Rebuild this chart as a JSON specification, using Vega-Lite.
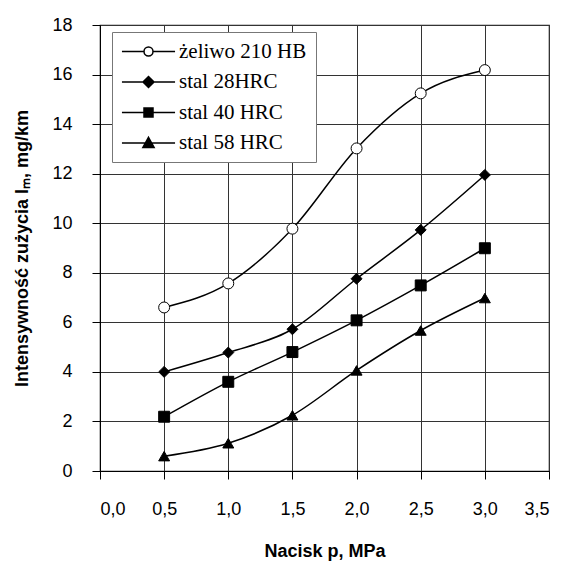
{
  "$schema": "https://vega.github.io/schema/vega-lite/v6.json",
  "width": 449,
  "height": 446,
  "autosize": "none",
  "padding": {"left": 100, "top": 25, "right": 20, "bottom": 97},
  "background": "white",
  "config": {
    "locale": {"number": {"decimal": ",", "thousands": " ", "grouping": [3], "currency": ["", ""]}},
    "view": {"stroke": "#222", "strokeWidth": 1.2},
    "axis": {
      "labelFont": "Liberation Sans", "labelFontSize": 18, "labelColor": "black",
      "titleFont": "Liberation Sans", "titleFontSize": 18, "titleFontWeight": "bold", "titleColor": "black",
      "domainColor": "black", "tickColor": "black", "tickSize": 8,
      "gridColor": "#333", "gridWidth": 1, "gridOpacity": 1
    }
  },
  "datasets": {
    "wear": [
      {"p": 0.5, "Im": 6.6, "series": "żeliwo 210 HB"},
      {"p": 1.0, "Im": 7.57, "series": "żeliwo 210 HB"},
      {"p": 1.5, "Im": 9.78, "series": "żeliwo 210 HB"},
      {"p": 2.0, "Im": 13.02, "series": "żeliwo 210 HB"},
      {"p": 2.5, "Im": 15.24, "series": "żeliwo 210 HB"},
      {"p": 3.0, "Im": 16.18, "series": "żeliwo 210 HB"},
      {"p": 0.5, "Im": 4.0, "series": "stal 28HRC"},
      {"p": 1.0, "Im": 4.78, "series": "stal 28HRC"},
      {"p": 1.5, "Im": 5.72, "series": "stal 28HRC"},
      {"p": 2.0, "Im": 7.76, "series": "stal 28HRC"},
      {"p": 2.5, "Im": 9.73, "series": "stal 28HRC"},
      {"p": 3.0, "Im": 11.95, "series": "stal 28HRC"},
      {"p": 0.5, "Im": 2.19, "series": "stal 40 HRC"},
      {"p": 1.0, "Im": 3.6, "series": "stal 40 HRC"},
      {"p": 1.5, "Im": 4.8, "series": "stal 40 HRC"},
      {"p": 2.0, "Im": 6.08, "series": "stal 40 HRC"},
      {"p": 2.5, "Im": 7.49, "series": "stal 40 HRC"},
      {"p": 3.0, "Im": 8.99, "series": "stal 40 HRC"},
      {"p": 0.5, "Im": 0.6, "series": "stal 58 HRC"},
      {"p": 1.0, "Im": 1.12, "series": "stal 58 HRC"},
      {"p": 1.5, "Im": 2.25, "series": "stal 58 HRC"},
      {"p": 2.0, "Im": 4.06, "series": "stal 58 HRC"},
      {"p": 2.5, "Im": 5.67, "series": "stal 58 HRC"},
      {"p": 3.0, "Im": 6.98, "series": "stal 58 HRC"}
    ]
  },
  "data": {"name": "wear"},
  "encoding": {
    "x": {
      "field": "p", "type": "quantitative",
      "scale": {"domain": [0, 3.5], "nice": false, "zero": false},
      "axis": {"values": [0, 0.5, 1, 1.5, 2, 2.5, 3, 3.5], "format": ".1f", "title": "Nacisk p, MPa", "labelPadding": 21, "titlePadding": 24}
    },
    "y": {
      "field": "Im", "type": "quantitative",
      "scale": {"domain": [0, 18], "nice": false},
      "axis": {"values": [0, 2, 4, 6, 8, 10, 12, 14, 16, 18], "title": "Intensywność zużycia Iₘ, mg/km", "labelPadding": 20, "titlePadding": 20}
    }
  },
  "layer": [
    {
      "mark": {"type": "line", "interpolate": "monotone", "color": "black", "strokeWidth": 1.5},
      "encoding": {"detail": {"field": "series", "type": "nominal"}}
    },
    {
      "mark": {"type": "point", "filled": true, "stroke": "black", "strokeWidth": 1, "size": 120, "opacity": 1},
      "encoding": {
        "shape": {
          "condition": [
            {"test": "datum.series === 'żeliwo 210 HB'", "value": "circle"},
            {"test": "datum.series === 'stal 28HRC'", "value": "diamond"},
            {"test": "datum.series === 'stal 40 HRC'", "value": "square"}
          ],
          "value": "triangle-up"
        },
        "fill": {"condition": {"test": "datum.series === 'żeliwo 210 HB'", "value": "white"}, "value": "black"}
      }
    },
    {
      "transform": [{"filter": "false"}],
      "mark": {"type": "point", "filled": true, "strokeWidth": 1.5, "opacity": 1},
      "encoding": {
        "shape": {
          "field": "series", "type": "nominal",
          "scale": {
            "domain": ["żeliwo 210 HB", "stal 28HRC", "stal 40 HRC", "stal 58 HRC"],
            "range": [
              "M-5.9,0H-1M1,0H5.9M1,0A1,1 0 1,1 -1,0A1,1 0 1,1 1,0Z",
              "M-5.9,0H5.9M0,-1.22L1.22,0L0,1.22L-1.22,0Z",
              "M-5.9,0H5.9M-1,-1H1V1H-1Z",
              "M-5.9,0H5.9M0,-1.25L1.25,1H-1.25Z"
            ]
          },
          "legend": {
            "title": null, "orient": "none", "legendX": 12, "legendY": 7,
            "symbolSize": 81, "symbolOffset": 17, "symbolStrokeWidth": 1.5,
            "labelFont": "Liberation Serif", "labelFontSize": 21, "labelColor": "black", "labelOffset": 20,
            "padding": 9, "rowPadding": 8.5, "strokeColor": "#777", "fillColor": "white", "labelLimit": 300
          }
        },
        "fill": {
          "field": "series", "type": "nominal",
          "scale": {
            "domain": ["żeliwo 210 HB", "stal 28HRC", "stal 40 HRC", "stal 58 HRC"],
            "range": ["white", "black", "black", "black"]
          },
          "legend": {
            "title": null, "orient": "none", "legendX": 12, "legendY": 7,
            "symbolSize": 81, "symbolOffset": 17, "symbolStrokeWidth": 1.5,
            "labelFont": "Liberation Serif", "labelFontSize": 21, "labelColor": "black", "labelOffset": 20,
            "padding": 9, "rowPadding": 8.5, "strokeColor": "#777", "fillColor": "white", "labelLimit": 300
          }
        },
        "stroke": {
          "field": "series", "type": "nominal",
          "scale": {
            "domain": ["żeliwo 210 HB", "stal 28HRC", "stal 40 HRC", "stal 58 HRC"],
            "range": ["black", "black", "black", "black"]
          },
          "legend": {
            "title": null, "orient": "none", "legendX": 12, "legendY": 7,
            "symbolSize": 81, "symbolOffset": 17, "symbolStrokeWidth": 1.5,
            "labelFont": "Liberation Serif", "labelFontSize": 21, "labelColor": "black", "labelOffset": 20,
            "padding": 9, "rowPadding": 8.5, "strokeColor": "#777", "fillColor": "white", "labelLimit": 300
          }
        }
      }
    }
  ]
}
